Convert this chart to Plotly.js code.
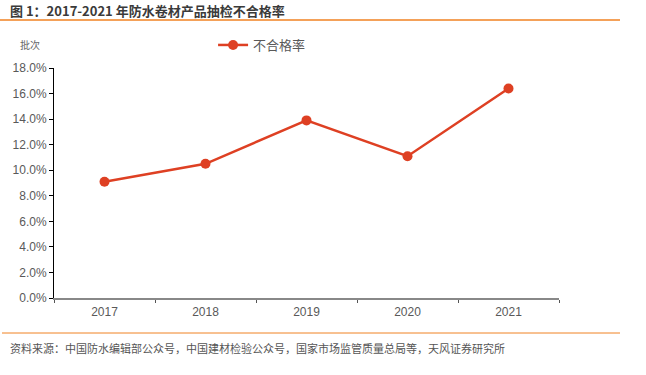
<!DOCTYPE html>
<html><head><meta charset="utf-8">
<script src="https://cdn.plot.ly/plotly-3.0.1.min.js"></script>
<style>html,body{margin:0;padding:0;background:#fff;}#chart{width:646px;height:375px;}</style>
</head><body><div id="chart"></div>
<script>
const years = ['2017', '2018', '2019', '2020', '2021'];
const rates = [9.1, 10.5, 13.9, 11.1, 16.4];
const seriesName = '不合格率';
const yTickVals = [0, 2, 4, 6, 8, 10, 12, 14, 16, 18];
const yTickText = yTickVals.map(v => v.toFixed(1) + '%');

const FONT = '"Liberation Sans", Arial, "Noto Sans CJK SC", sans-serif';
const trace = {
  x: years, y: rates, name: seriesName, type: 'scatter', mode: 'lines+markers',
  line: {color: '#DE4023', width: 2.5},
  marker: {color: '#DE4023', size: 10}
};
const layout = {
  width: 646, height: 375,
  margin: {l: 54, r: 87, t: 68, b: 77},
  paper_bgcolor: '#fff', plot_bgcolor: '#fff',
  font: {family: FONT, size: 12, color: '#595959'},
  showlegend: true,
  legend: {orientation: 'h', x: 0.315, y: 1.1, xanchor: 'left', yanchor: 'middle',
           font: {size: 13, color: '#595959', family: '"Noto Sans CJK SC", sans-serif'}, bgcolor: 'rgba(0,0,0,0)'},
  xaxis: {type: 'category', range: [-0.5, 4.5], showgrid: false, zeroline: false,
          showline: true, linecolor: '#888', linewidth: 2,
          ticks: 'outside', tickson: 'boundaries', ticklen: 3, tickcolor: '#555', tickwidth: 1,
          ticklabelstandoff: 2,
          tickfont: {size: 12, color: '#595959'}},
  yaxis: {range: [0, 18], tickvals: yTickVals, ticktext: yTickText, showgrid: false, zeroline: false,
          showline: true, linecolor: '#000', linewidth: 1,
          ticks: 'outside', ticklen: 4, tickcolor: '#000',
          tickfont: {size: 12, color: '#595959'}},
  shapes: [
    {type: 'line', xref: 'paper', yref: 'paper', x0: -54/505, x1: 566/505, y0: 1 + 48/230, y1: 1 + 48/230,
     line: {color: '#F08222', width: 1.5}},
    {type: 'line', xref: 'paper', yref: 'paper', x0: -52/505, x1: 566/505, y0: -35/230, y1: -35/230,
     line: {color: '#F08222', width: 1}}
  ],
  annotations: [
    {xref: 'paper', yref: 'paper', x: -46/505, y: 1 + 58/230, xanchor: 'left', yanchor: 'middle', showarrow: false,
     text: '<b>图 1：2017-2021 年防水卷材产品抽检不合格率</b>',
     font: {size: 13, color: '#3A3A3A', family: '"Noto Sans CJK SC", sans-serif'}},
    {xref: 'paper', yref: 'paper', x: -36/505, y: 1 + 23/230, xanchor: 'left', yanchor: 'middle', showarrow: false,
     text: '批次', font: {size: 10, color: '#666', family: '"Noto Sans CJK SC", sans-serif'}},
    {xref: 'paper', yref: 'paper', x: -46/505, y: -50/230, xanchor: 'left', yanchor: 'middle', showarrow: false,
     text: '资料来源：中国防水编辑部公众号，中国建材检验公众号，国家市场监管质量总局等，天风证券研究所',
     font: {size: 11, color: '#555', family: '"Noto Sans CJK SC", sans-serif'}}
  ]
};
Plotly.newPlot('chart', [trace], layout, {displayModeBar: false, staticPlot: true});
</script></body></html>
